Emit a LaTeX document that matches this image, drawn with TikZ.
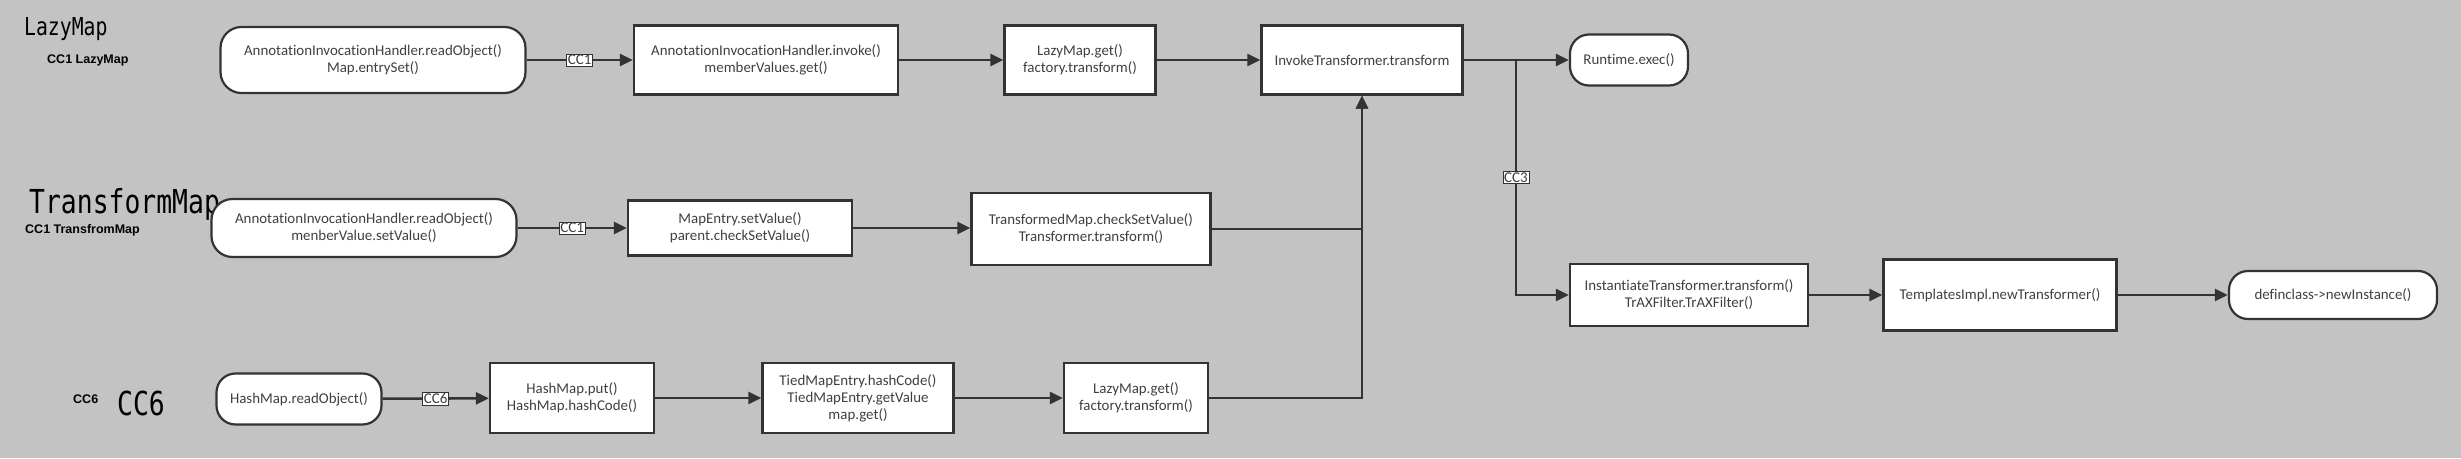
\documentclass[tikz,border=0pt]{standalone}
\usepackage{graphicx}
\usepackage{fontspec}
\setmainfont{Carlito}[Ligatures=NoCommon]
\newfontfamily\headfont{DejaVu Sans Mono}
\newfontfamily\tagfont{Liberation Sans}
\usetikzlibrary{arrows.meta,positioning}
\definecolor{bggray}{RGB}{195,195,195}
\definecolor{edgegray}{RGB}{51,51,51}
\definecolor{textgray}{RGB}{64,64,64}

\tikzset{
  callbox/.style={draw=edgegray,line width=2.2pt,fill=white,text=textgray,
    font=\fontsize{14.9}{17}\selectfont,align=center,inner sep=0pt},
  endbox/.style={callbox,rounded corners=21pt},
  flow/.style={draw=edgegray,line width=2.6pt,-{Triangle[length=13pt,width=12pt]}},
  chainlbl/.style={draw=edgegray,line width=.6pt,fill=white,text=textgray,
    font=\fontsize{15}{15}\selectfont,inner sep=1.2pt},
  bigtitle/.style={anchor=west,inner sep=0pt,text=black},
  smalltag/.style={anchor=west,inner sep=0pt,text=black,font=\tagfont\bfseries\fontsize{12.5}{13}\selectfont},
}

\begin{document}
\begin{tikzpicture}[x=1pt,y=-1pt]
\fill[bggray] (0,0) rectangle (2461,458);
\useasboundingbox (0,0) rectangle (2461,458);

\node[bigtitle,font=\headfont\fontsize{24.7}{26}\selectfont] (lazytitle) at (24,29) {\scalebox{.8}[1]{LazyMap}};
\node[smalltag] (lazytag) at (47,60) {CC1 LazyMap};
\node[bigtitle,font=\headfont\fontsize{33}{34}\selectfont] (trtitle) at (29,204) {\scalebox{.8}[1]{TransformMap}};
\node[smalltag] (trtag) at (25,230) {CC1 TransfromMap};
\node[smalltag] (cc6tag) at (73,399) {CC6};
\node[bigtitle,font=\headfont\fontsize{33}{34}\selectfont] (cc6title) at (117,403) {\scalebox{.8}[1]{CC6}};

\node[endbox,minimum width=305pt,minimum height=66pt] (aih1) at (373,60) {AnnotationInvocationHandler.readObject()\\Map.entrySet()};
\node[callbox,minimum width=264pt,minimum height=69pt] (invoke1) at (766,60) {AnnotationInvocationHandler.invoke()\\memberValues.get()};
\node[callbox,minimum width=151pt,minimum height=69pt] (lazyget1) at (1080,60) {LazyMap.get()\\factory.transform()};
\node[callbox,minimum width=201pt,minimum height=69pt] (invtr) at (1362,60) {InvokeTransformer.transform};
\node[endbox,rounded corners=19pt,minimum width=118pt,minimum height=51pt] (rtexec) at (1629,60) {Runtime.exec()};

\node[endbox,minimum width=305pt,minimum height=58pt] (aih2) at (364,228) {AnnotationInvocationHandler.readObject()\\menberValue.setValue()};
\node[callbox,minimum width=224pt,minimum height=55pt] (mapentry) at (740,228) {MapEntry.setValue()\\parent.checkSetValue()};
\node[callbox,minimum width=239pt,minimum height=72pt] (trmap) at (1091,229) {TransformedMap.checkSetValue()\\Transformer.transform()};

\node[endbox,rounded corners=19pt,minimum width=165pt,minimum height=51pt] (hmread) at (299,399) {HashMap.readObject()};
\node[callbox,minimum width=164pt,minimum height=70pt] (hmput) at (572,398) {HashMap.put()\\HashMap.hashCode()};
\node[callbox,minimum width=191pt,minimum height=70pt] (tied) at (858,398) {TiedMapEntry.hashCode()\\TiedMapEntry.getValue\\map.get()};
\node[callbox,minimum width=144pt,minimum height=70pt] (lazyget3) at (1136,398) {LazyMap.get()\\factory.transform()};

\node[callbox,minimum width=238pt,minimum height=62pt] (inst) at (1689,295) {InstantiateTransformer.transform()\\TrAXFilter.TrAXFilter()};
\node[callbox,minimum width=233pt,minimum height=71pt] (tmpl) at (2000,295) {TemplatesImpl.newTransformer()};
\node[endbox,rounded corners=19pt,minimum width=208pt,minimum height=48pt] (defcls) at (2333,295) {definclass-\textgreater newInstance()};

\coordinate (split) at (1516,60);

\draw[flow] (aih1) -- node[chainlbl] {CC1} (invoke1);
\draw[flow] (invoke1) -- (lazyget1);
\draw[flow] (lazyget1) -- (invtr);
\draw[flow] (invtr) -- (rtexec);
\draw[flow] (split) |- node[chainlbl,pos=.25] {CC3} (inst.west);

\draw[flow] (aih2) -- node[chainlbl] {CC1} (mapentry);
\draw[flow] (mapentry) -- (mapentry -| trmap.west);
\draw[flow] (trmap.east) -| (invtr.south);

\draw[flow] (hmread) -- node[chainlbl] {CC6} (hmput);
\draw[flow] (hmput) -- (tied);
\draw[flow] (tied) -- (lazyget3);
\draw[flow] (lazyget3.east) -| (invtr.south);

\draw[flow] (inst) -- (tmpl);
\draw[flow] (tmpl) -- (defcls);
\end{tikzpicture}
\end{document}
